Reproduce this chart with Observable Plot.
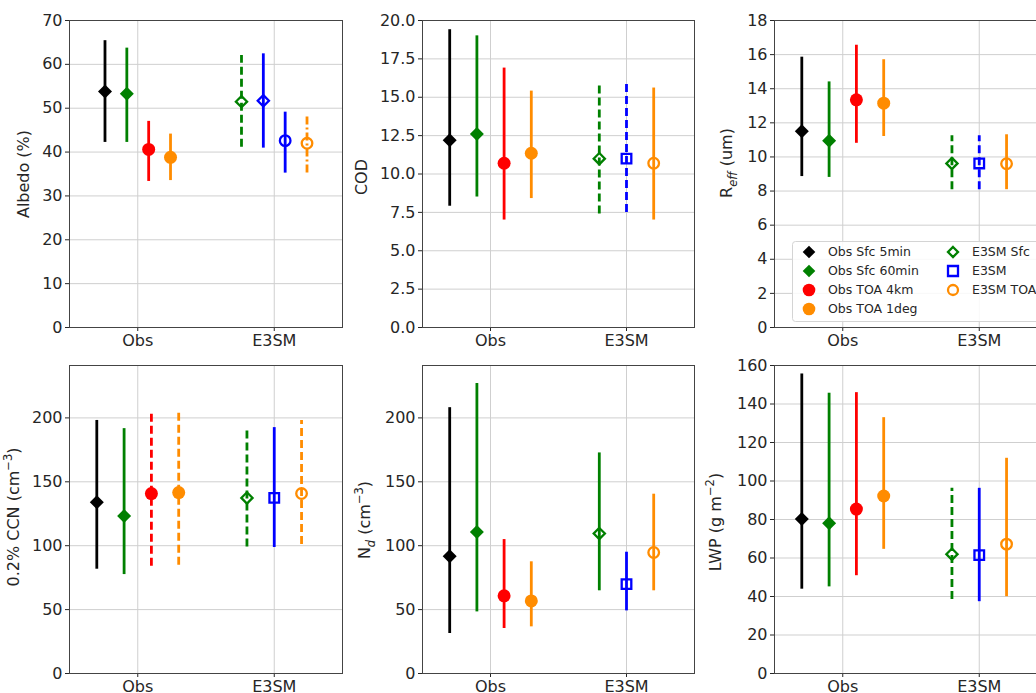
<!DOCTYPE html>
<html><head><meta charset="utf-8">
<script src="https://cdn.jsdelivr.net/npm/d3@7"></script>
<script src="https://cdn.jsdelivr.net/npm/@observablehq/plot@0.6"></script>
<style>
html,body{margin:0;padding:0;background:#fff;overflow:hidden;}
#root{position:relative;width:1036px;height:693px;overflow:hidden;font-family:"DejaVu Sans",sans-serif;}
#root svg{position:absolute;overflow:visible;}
</style></head><body><div id="root"></div>
<script>
// ---------------- data ----------------
const groups = ["Obs", "E3SM"];

const albedoNames = ["Obs Sfc 5min","Obs Sfc 60min","Obs TOA 4km","Obs TOA 1deg","E3SM Sfc","E3SM","E3SM TOA 4km","E3SM TOA"];
const albedoMean = [53.8, 53.3, 40.6, 38.8, 51.5, 51.7, 42.6, 42.0];
const albedoLow  = [42.2, 42.2, 33.3, 33.5, 41.1, 40.9, 35.2, 35.2];
const albedoHigh = [65.4, 63.7, 47.0, 44.1, 62.0, 62.4, 49.1, 48.6];

const names7 = ["Obs Sfc 5min","Obs Sfc 60min","Obs TOA 4km","Obs TOA 1deg","E3SM Sfc","E3SM","E3SM TOA"];

const codMean = [12.2, 12.6, 10.7, 11.35, 11.0, 11.0, 10.7];
const codLow  = [7.9, 8.5, 7.0, 8.4, 7.4, 7.5, 7.0];
const codHigh = [19.4, 19.0, 16.9, 15.4, 16.0, 16.0, 15.6];

const reffMean = [11.5, 10.95, 13.35, 13.15, 9.62, 9.62, 9.6];
const reffLow  = [8.85, 8.8, 10.8, 11.2, 8.08, 8.08, 8.08];
const reffHigh = [15.85, 14.4, 16.55, 15.7, 11.25, 11.25, 11.3];

const ccnMean = [134, 123.3, 140.8, 141.6, 137.4, 137.4, 140.8];
const ccnLow  = [81.6, 77.4, 84, 84.7, 99, 98.6, 101];
const ccnHigh = [198, 191.6, 204.7, 206, 191.7, 192.4, 198];

const ndMean = [91.8, 110.8, 60.8, 56.8, 109.5, 69.9, 94.7];
const ndLow  = [31.3, 48.2, 35.2, 36.5, 64.7, 49, 64.7];
const ndHigh = [208, 226.9, 104.8, 87.4, 172.6, 94.9, 140.3];

const lwpMean = [80.2, 78, 85.4, 92.2, 62, 61.5, 67.2];
const lwpLow  = [43.8, 45, 50.8, 64.5, 38.5, 37.3, 39.9];
const lwpHigh = [155.6, 145.6, 145.9, 132.9, 96.2, 96.2, 111.8];

const albedoTicks = [0,10,20,30,40,50,60,70];
const codTicks = [0,2.5,5,7.5,10,12.5,15,17.5,20];
const reffTicks = [0,2,4,6,8,10,12,14,16,18];
const ccnTicks = [0,50,100,150,200];
const ndTicks = [0,50,100,150,200];
const lwpTicks = [0,20,40,60,80,100,120,140,160];

// ---------------- styles ----------------
const diamondSym = {draw(ctx, size){const s=Math.sqrt(size/Math.PI);ctx.moveTo(0,-s);ctx.lineTo(s,0);ctx.lineTo(0,s);ctx.lineTo(-s,0);ctx.closePath();}};
const squareSym = {draw(ctx, size){const s=Math.sqrt(size/Math.PI);ctx.moveTo(-s,-s);ctx.lineTo(s,-s);ctx.lineTo(s,s);ctx.lineTo(-s,s);ctx.closePath();}};
const GREEN="#008000", BLUE="#0000ff", RED="#ff0000", ORANGE="#ff8c00";
const styles = {
  obs5:   {color:"#000000", symbol:diamondSym, filled:true,  r:7},
  obs60:  {color:GREEN,     symbol:diamondSym, filled:true,  r:7},
  toa4:   {color:RED,       symbol:"circle",   filled:true,  r:6.5},
  toa1:   {color:ORANGE,    symbol:"circle",   filled:true,  r:6.5},
  eSfc:   {color:GREEN,     symbol:diamondSym, filled:false, r:5.6},
  eDia:   {color:BLUE,      symbol:diamondSym, filled:false, r:5.6},
  eSq:    {color:BLUE,      symbol:squareSym,  filled:false, r:4.8},
  eCirB:  {color:BLUE,      symbol:"circle",   filled:false, r:5.3},
  eToa:   {color:ORANGE,    symbol:"circle",   filled:false, r:5.3}
};
const dashes = [null, "8,4", "8,3,2,3"];

const panels = [
  {names:albedoNames, mean:albedoMean, lo:albedoLow, hi:albedoHigh, ticks:albedoTicks, domain:[0,70], fmt:d3.format("d"),
   keys:["obs5","obs60","toa4","toa1","eSfc","eDia","eCirB","eToa"], dash:[0,0,0,0,1,0,0,2], spacing:0.16,
   col:0, row:0, label:[{t:"Albedo (%)"}], lx:29, ly:174},
  {names:names7, mean:codMean, lo:codLow, hi:codHigh, ticks:codTicks, domain:[0,20], fmt:d3.format(".1f"),
   keys:["obs5","obs60","toa4","toa1","eSfc","eSq","eToa"], dash:[0,0,0,0,1,1,0], spacing:0.2,
   col:1, row:0, label:[{t:"COD"}], lx:367, ly:177},
  {names:names7, mean:reffMean, lo:reffLow, hi:reffHigh, ticks:reffTicks, domain:[0,18], fmt:d3.format("d"),
   keys:["obs5","obs60","toa4","toa1","eSfc","eSq","eToa"], dash:[0,0,0,0,1,1,0], spacing:0.2,
   col:2, row:0, label:[{t:"R"},{t:"eff",sub:true,it:true},{t:" (um)"}], lx:732, ly:163},
  {names:names7, mean:ccnMean, lo:ccnLow, hi:ccnHigh, ticks:ccnTicks, domain:[0,241], fmt:d3.format("d"),
   keys:["obs5","obs60","toa4","toa1","eSfc","eSq","eToa"], dash:[0,0,1,1,1,0,1], spacing:0.2,
   col:0, row:1, label:[{t:"0.2% CCN (cm"},{t:"\u22123",sup:true},{t:")"}], lx:19, ly:517},
  {names:names7, mean:ndMean, lo:ndLow, hi:ndHigh, ticks:ndTicks, domain:[0,241], fmt:d3.format("d"),
   keys:["obs5","obs60","toa4","toa1","eSfc","eSq","eToa"], dash:[0,0,0,0,0,0,0], spacing:0.2,
   col:1, row:1, label:[{t:"N"},{t:"d",sub:true,it:true},{t:" (cm"},{t:"\u22123",sup:true},{t:")"}], lx:370, ly:520},
  {names:names7, mean:lwpMean, lo:lwpLow, hi:lwpHigh, ticks:lwpTicks, domain:[0,160], fmt:d3.format("d"),
   keys:["obs5","obs60","toa4","toa1","eSfc","eSq","eToa"], dash:[0,0,0,0,1,0,0], spacing:0.2,
   col:2, row:1, label:[{t:"LWP (g m"},{t:"\u22122",sup:true},{t:")"}], lx:721, ly:522}
];

// ---------------- layout ----------------
const cols = [{left:0, width:350, ml:69, mr:8}, {left:350, width:350, ml:72, mr:6}, {left:700, width:350, ml:74, mr:3}];
const rowsL = [{top:0, height:350, mt:20, mb:23}, {top:350, height:343, mt:15, mb:20}];

const root = document.getElementById("root");

function drawPanel(p) {
  const gIdx = p.names.map(n => n.startsWith("Obs") ? 0 : 1);
  const rows = p.names.map((name, i) => {
    const g = gIdx[i];
    const members = gIdx.map((v, k) => v === g ? k : -1).filter(k => k >= 0);
    const j = members.indexOf(i), m = members.length;
    return {name, x: g + (j - (m - 1) / 2) * p.spacing, mean: p.mean[i], lo: p.lo[i], hi: p.hi[i],
            st: styles[p.keys[i]], dash: dashes[p.dash[i]]};
  });
  const c = cols[p.col], r = rowsL[p.row];
  const marks = [
    Plot.ruleY(p.ticks, {stroke: "#cfcfcf", strokeWidth: 1}),
    Plot.ruleX([0, 1], {stroke: "#cfcfcf", strokeWidth: 1})
  ];
  rows.forEach(d => {
    const o = {x: "x", y1: "lo", y2: "hi", stroke: d.st.color, strokeWidth: 2.8};
    if (d.dash) o.strokeDasharray = d.dash;
    marks.push(Plot.ruleX([d], o));
  });
  rows.forEach(d => {
    marks.push(Plot.dot([d], {x: "x", y: "mean", symbol: d.st.symbol, r: d.st.r,
      fill: d.st.filled ? d.st.color : "none", stroke: d.st.filled ? "none" : d.st.color,
      strokeWidth: d.st.filled ? 0 : 2.3}));
  });
  marks.push(Plot.frame({stroke: "#444", strokeWidth: 1}));
  const svg = Plot.plot({
    width: c.width, height: r.height,
    marginLeft: c.ml, marginRight: c.mr, marginTop: r.mt, marginBottom: r.mb,
    style: {fontFamily: "DejaVu Sans, sans-serif", fontSize: "16px", color: "#262626", background: "transparent", overflow: "visible"},
    x: {domain: [-0.5, 1.5], ticks: [0, 1], tickFormat: v => groups[v], tickSize: 4, tickPadding: 3, label: null},
    y: {domain: p.domain, ticks: p.ticks, tickFormat: p.fmt, tickSize: 4, tickPadding: 3, label: null},
    marks
  });
  svg.style.left = c.left + "px";
  svg.style.top = r.top + "px";
  const t = d3.select(svg).append("text")
    .attr("transform", `translate(${p.lx - c.left},${p.ly - r.top}) rotate(-90)`)
    .attr("text-anchor", "middle").attr("dy", "0.35em")
    .attr("fill", "#262626").attr("font-size", 16).attr("font-family", "DejaVu Sans, sans-serif");
  let shift = 0;
  p.label.forEach(seg => {
    const ts = t.append("tspan").text(seg.t);
    let target = 0;
    if (seg.sub) { target = 5; ts.attr("font-size", 11.5); }
    if (seg.sup) { target = -7; ts.attr("font-size", 11.5); }
    if (seg.it) ts.attr("font-style", "italic");
    ts.attr("dy", target - shift);
    shift = target;
  });
  root.appendChild(svg);
}
panels.forEach(drawPanel);

// ---------------- legend ----------------
const legendCol1 = ["Obs Sfc 5min","Obs Sfc 60min","Obs TOA 4km","Obs TOA 1deg"];
const legendCol1Keys = ["obs5","obs60","toa4","toa1"];
const legendCol2 = ["E3SM Sfc","E3SM","E3SM TOA"];
const legendCol2Keys = ["eSfc","eSq","eToa"];

const leg = d3.create("svg").attr("width", 260).attr("height", 82)
  .style("left", "792px").style("top", "241px");
leg.append("rect").attr("x", 0.5).attr("y", 0.5).attr("width", 258).attr("height", 80).attr("rx", 3)
  .attr("fill", "white").attr("fill-opacity", 0.85).attr("stroke", "#d4d4d4");
function legItem(key, label, x, y) {
  const st = styles[key];
  const rr = st.filled ? 6.3 : 5;
  const g = leg.append("g").attr("transform", `translate(${x},${y})`);
  if (st.symbol === "circle") g.append("circle").attr("r", rr);
  else g.append("path").attr("d", d3.symbol({draw: st.symbol.draw}, Math.PI * rr * rr)());
  g.select(":first-child").attr("fill", st.filled ? st.color : "none")
    .attr("stroke", st.filled ? "none" : st.color).attr("stroke-width", st.filled ? 0 : 2.3);
  leg.append("text").attr("x", x + 19).attr("y", y).attr("dy", "0.35em").text(label)
    .attr("font-size", 12.5).attr("fill", "#262626").attr("font-family", "DejaVu Sans, sans-serif");
}
legendCol1.forEach((l, i) => legItem(legendCol1Keys[i], l, 17, 11 + i * 19));
legendCol2.forEach((l, i) => legItem(legendCol2Keys[i], l, 161, 11 + i * 19));
root.appendChild(leg.node());
</script></body></html>
